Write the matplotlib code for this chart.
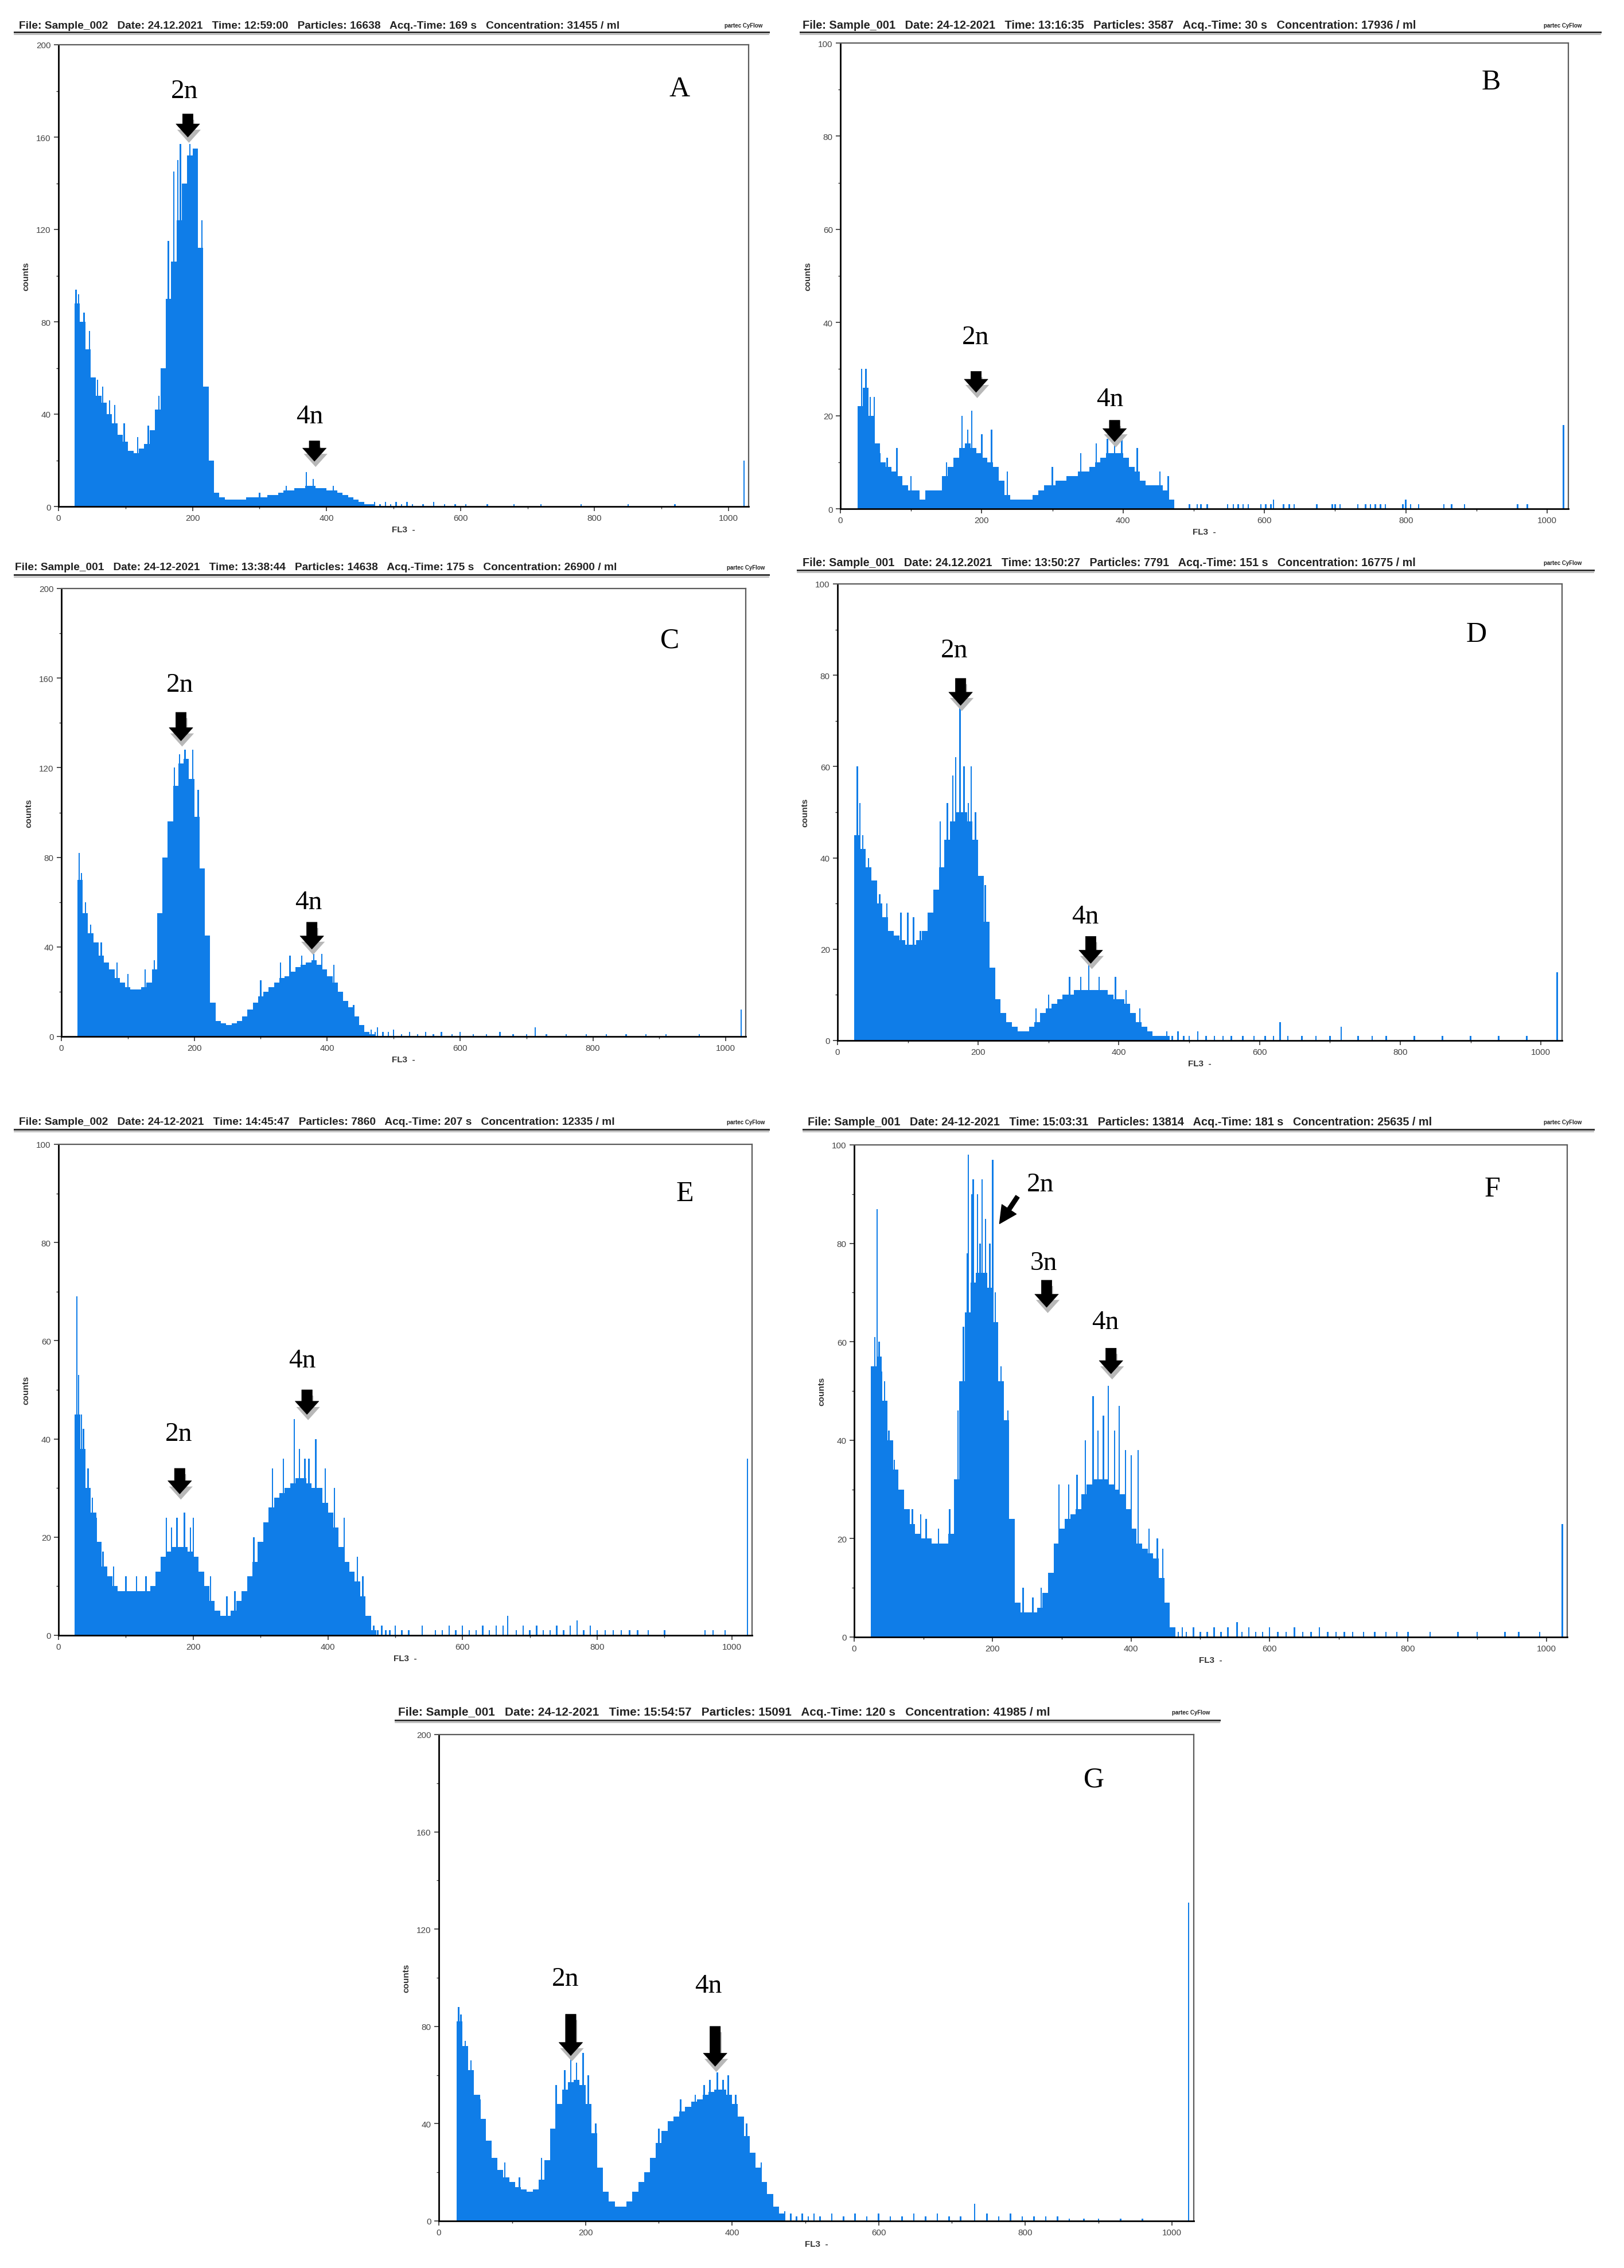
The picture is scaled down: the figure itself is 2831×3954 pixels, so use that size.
import matplotlib
matplotlib.use('Agg')
import numpy as np
import matplotlib.pyplot as plt
import matplotlib.transforms as mtransforms
from matplotlib import font_manager

# ---- data: FL3 histograms, 8-channel bins starting at channel 24 ----
a_counts = [88, 80, 68, 56, 48, 45, 40, 36, 31, 28, 24, 23, 25, 27, 33, 42, 60, 90, 106, 124,
            140, 152, 155, 112, 52, 20, 6, 4, 3, 3, 3, 3, 4, 4, 4, 4, 5, 5, 6, 7,
            7, 8, 8, 9, 9, 8, 8, 7, 7, 6, 5, 4, 3, 2, 1, 1]
b_counts = [22, 26, 20, 14, 10, 9, 8, 7, 5, 4, 4, 2, 4, 4, 4, 7, 9, 11, 13, 14,
            13, 12, 11, 10, 9, 6, 3, 2, 2, 2, 2, 3, 4, 5, 5, 6, 6, 7, 7, 8,
            8, 9, 10, 11, 12, 12, 12, 11, 9, 8, 6, 5, 5, 5, 4, 2]
c_counts = [70, 55, 46, 42, 36, 33, 30, 26, 24, 22, 21, 21, 22, 24, 30, 55, 80, 96, 112, 122,
            124, 115, 98, 75, 45, 15, 7, 6, 5, 6, 7, 9, 12, 15, 18, 20, 22, 24, 26, 27,
            29, 31, 32, 33, 34, 32, 30, 27, 24, 20, 16, 13, 9, 5, 2, 1]
d_counts = [45, 42, 38, 35, 30, 27, 24, 23, 22, 21, 21, 22, 24, 28, 33, 38, 44, 48, 50, 50,
            48, 44, 36, 26, 16, 9, 6, 4, 3, 2, 2, 3, 4, 6, 7, 8, 9, 10, 10, 11,
            11, 11, 11, 11, 11, 10, 9, 9, 8, 6, 4, 3, 2, 1, 1, 1]
e_counts = [45, 38, 30, 25, 19, 14, 12, 10, 9, 9, 9, 9, 9, 9, 10, 13, 16, 17, 18, 18,
            18, 17, 16, 13, 10, 7, 5, 4, 4, 5, 7, 9, 12, 15, 19, 23, 26, 28, 29, 30,
            31, 32, 32, 31, 30, 30, 27, 25, 22, 18, 15, 13, 11, 8, 4, 1]
f_counts = [55, 57, 48, 40, 34, 30, 26, 23, 21, 20, 20, 19, 19, 19, 21, 32, 52, 66, 72, 74,
            74, 71, 64, 52, 44, 24, 7, 5, 5, 5, 6, 9, 13, 19, 22, 24, 25, 26, 29, 31,
            32, 32, 32, 31, 30, 29, 26, 22, 19, 18, 17, 16, 12, 7, 2, 0]
g_counts = [82, 72, 62, 52, 42, 33, 26, 21, 18, 16, 14, 13, 12, 13, 17, 25, 38, 48, 54, 57,
            58, 56, 48, 36, 22, 12, 8, 6, 6, 8, 12, 16, 20, 26, 32, 37, 41, 43, 45, 47,
            49, 50, 52, 53, 54, 54, 52, 48, 43, 35, 28, 22, 16, 11, 6, 3]

# single-channel spikes standing above the bins
a_spike_ch = [26, 30, 38, 46, 58, 66, 76, 84, 98, 118, 134, 150, 164, 172, 178, 182, 196, 214, 300, 340, 370, 380, 410]
a_spike_n = [94, 92, 84, 76, 55, 52, 46, 44, 36, 30, 35, 48, 115, 145, 150, 157, 157, 124, 6, 9, 15, 12, 9]
b_spike_ch = [30, 36, 42, 48, 56, 66, 80, 100, 150, 172, 180, 186, 200, 214, 236, 300, 340, 362, 378, 388, 398, 420, 452, 464]
b_spike_n = [30, 30, 24, 24, 12, 11, 13, 7, 10, 20, 17, 21, 16, 17, 8, 9, 12, 14, 15, 17, 15, 13, 8, 7]
c_spike_ch = [27, 30, 36, 44, 60, 84, 100, 126, 140, 170, 178, 186, 198, 206, 300, 330, 344, 362, 380, 392, 410, 440]
c_spike_n = [82, 73, 60, 50, 42, 33, 28, 30, 34, 120, 126, 128, 128, 110, 25, 33, 36, 36, 37, 37, 32, 14]
d_spike_ch = [28, 32, 36, 44, 52, 60, 70, 90, 100, 108, 118, 146, 156, 164, 168, 174, 180, 186, 190, 196, 210,
              282, 300, 330, 346, 357, 372, 395, 410, 430]
d_spike_n = [60, 52, 45, 40, 35, 32, 30, 28, 28, 27, 24, 48, 52, 58, 62, 73, 60, 52, 60, 50, 34,
             7, 10, 14, 14, 18, 14, 14, 11, 7]
e_spike_ch = [27, 30, 34, 37, 44, 50, 56, 66, 82, 100, 116, 130, 160, 168, 176, 187, 196, 200, 226, 250, 262,
              290, 318, 334, 350, 358, 366, 372, 382, 396, 410, 424, 444, 452]
e_spike_n = [69, 53, 45, 42, 34, 28, 24, 17, 14, 12, 12, 12, 24, 22, 24, 25, 22, 24, 12, 8, 9,
             20, 34, 36, 44, 38, 36, 36, 40, 34, 30, 24, 16, 12]
f_spike_ch = [30, 33, 36, 40, 44, 50, 58, 70, 84, 96, 104, 122, 138, 150, 158, 163, 165, 170, 172, 178, 182,
              185, 190, 196, 200, 204, 212, 222, 244, 258, 270, 296, 310, 322, 334, 345, 352, 360, 367,
              376, 383, 392, 400, 410, 426, 438, 446]
f_spike_n = [61, 87, 60, 54, 52, 42, 36, 30, 26, 25, 24, 22, 26, 46, 63, 78, 98, 90, 93, 90, 80,
             93, 85, 80, 97, 70, 55, 46, 10, 8, 10, 31, 31, 33, 40, 49, 42, 45, 51,
             42, 47, 38, 37, 38, 22, 20, 18]
g_spike_ch = [27, 30, 36, 44, 56, 70, 90, 110, 140, 160, 172, 180, 188, 197, 204, 214, 300, 330, 350, 362,
              370, 380, 388, 395, 405, 420, 440]
g_spike_n = [88, 85, 74, 66, 50, 32, 24, 18, 26, 56, 62, 68, 65, 69, 60, 40, 38, 50, 52, 56,
             58, 61, 58, 60, 52, 40, 24]

# sparse debris above channel ~460
a_tail_ch = [472, 480, 488, 496, 504, 512, 520, 528, 544, 560, 576, 592, 608, 640, 680, 720, 780, 850, 920]
a_tail_n = [2, 1, 2, 1, 2, 1, 2, 1, 1, 2, 1, 1, 1, 1, 1, 1, 1, 1, 1]
b_tail_ch = [494, 505, 510, 519, 548, 556, 563, 570, 577, 595, 602, 609, 613, 627, 635, 642, 674, 696, 700,
             707, 732, 743, 750, 757, 764, 771, 796, 800, 807, 818, 854, 865, 883, 958, 972]
b_tail_n = [1, 1, 1, 1, 1, 1, 1, 1, 1, 1, 1, 1, 2, 1, 1, 1, 1, 1, 1,
            1, 1, 1, 1, 1, 1, 1, 1, 2, 1, 1, 1, 1, 1, 1, 1]
c_tail_ch = [466, 472, 476, 484, 492, 500, 512, 524, 536, 548, 560, 572, 588, 600, 620, 640, 660, 680,
             700, 713, 730, 760, 790, 820, 850, 880, 910, 960]
c_tail_n = [3, 2, 4, 2, 2, 3, 1, 2, 1, 2, 1, 2, 1, 2, 1, 1, 2, 1, 1, 4, 1, 1, 1, 1, 1, 1, 1, 1]
d_tail_ch = [468, 476, 484, 492, 500, 512, 524, 536, 548, 560, 576, 592, 608, 620, 629, 640, 660, 680,
             700, 716, 740, 760, 780, 820, 860, 900, 940, 980]
d_tail_n = [2, 1, 2, 1, 1, 2, 1, 1, 1, 1, 1, 1, 1, 1, 4, 1, 1, 1, 1, 3, 1, 1, 1, 1, 1, 1, 1, 1]
e_tail_ch = [468, 474, 480, 486, 492, 500, 510, 520, 540, 560, 570, 580, 590, 600, 610, 620, 630, 640, 650,
             660, 667, 680, 690, 700, 710, 720, 730, 740, 750, 760, 770, 780, 790, 800, 812, 824, 836,
             848, 860, 876, 900, 960, 972, 990]
e_tail_n = [2, 1, 2, 1, 1, 2, 1, 1, 2, 1, 1, 2, 1, 2, 1, 1, 2, 1, 2,
            2, 4, 1, 2, 1, 2, 1, 1, 2, 1, 2, 3, 1, 2, 1, 1, 1, 1,
            1, 1, 1, 1, 1, 1, 1]
f_tail_ch = [462, 468, 474, 480, 490, 500, 510, 520, 530, 540, 553, 560, 570, 580, 590, 600, 612, 624, 636,
             648, 660, 672, 684, 696, 708, 720, 736, 752, 768, 784, 800, 832, 872, 900, 940, 960, 990]
f_tail_n = [2, 1, 2, 1, 2, 1, 1, 2, 1, 2, 3, 1, 2, 1, 1, 2, 1, 1, 2,
            1, 1, 2, 1, 1, 1, 1, 1, 1, 1, 1, 1, 1, 1, 1, 1, 1, 1]
g_tail_ch = [472, 480, 488, 496, 504, 512, 520, 536, 552, 568, 584, 600, 616, 632, 648, 664, 680, 696, 712,
             731, 748, 764, 780, 796, 812, 828, 844, 860, 880, 900, 930, 960]
g_tail_n = [4, 3, 2, 3, 2, 3, 2, 3, 2, 3, 2, 3, 2, 2, 3, 2, 3, 2, 2,
            7, 3, 2, 3, 2, 2, 2, 2, 1, 1, 1, 1, 1]

# last channel (off-scale events)
end_counts = {'A': 20, 'B': 18, 'C': 12, 'D': 15, 'E': 36, 'F': 23, 'G': 131}

headers = {
    'A': 'File: Sample_002   Date: 24.12.2021   Time: 12:59:00   Particles: 16638   Acq.-Time: 169 s   Concentration: 31455 / ml',
    'B': 'File: Sample_001   Date: 24-12-2021   Time: 13:16:35   Particles: 3587   Acq.-Time: 30 s   Concentration: 17936 / ml',
    'C': 'File: Sample_001   Date: 24-12-2021   Time: 13:38:44   Particles: 14638   Acq.-Time: 175 s   Concentration: 26900 / ml',
    'D': 'File: Sample_001   Date: 24.12.2021   Time: 13:50:27   Particles: 7791   Acq.-Time: 151 s   Concentration: 16775 / ml',
    'E': 'File: Sample_002   Date: 24-12-2021   Time: 14:45:47   Particles: 7860   Acq.-Time: 207 s   Concentration: 12335 / ml',
    'F': 'File: Sample_001   Date: 24-12-2021   Time: 15:03:31   Particles: 13814   Acq.-Time: 181 s   Concentration: 25635 / ml',
    'G': 'File: Sample_001   Date: 24-12-2021   Time: 15:54:57   Particles: 15091   Acq.-Time: 120 s   Concentration: 41985 / ml',
}

# ---- layout (pixels of the 2831 x 3955 canvas) ----
W, H = 2831, 3955
DPI = 100
BLUE = '#0f7de8'

names = {f.name for f in font_manager.fontManager.ttflist}
head_font = next((n for n in ['Liberation Sans Narrow', 'DejaVu Sans Condensed', 'Liberation Sans'] if n in names),
                 'DejaVu Sans')
serif_font = 'Liberation Serif' if 'Liberation Serif' in names else 'DejaVu Serif'

panels = [
    dict(key='A', counts=a_counts, spikes=(a_spike_ch, a_spike_n), tail=(a_tail_ch, a_tail_n), ymax=200,
         box=(102, 79, 1305, 884), head=(33, 1079, 45, 57, 25, 1340, 1329),
         marks=[('2n', 188, 180, 193, 170, 160), ('4n', 375, 39, 382, 28.4, 19.6)], letter=(927, 181)),
    dict(key='B', counts=b_counts, spikes=(b_spike_ch, b_spike_n), tail=(b_tail_ch, b_tail_n), ymax=100,
         box=(1465, 76, 2734, 888), head=(1399, 2471, 45, 57, 1395, 2790, 2757),
         marks=[('2n', 191, 36.9, 192, 29.5, 25), ('4n', 381, 23.6, 388, 19, 14.4)], letter=(921, 91.7)),
    dict(key='C', counts=c_counts, spikes=(c_spike_ch, c_spike_n), tail=(c_tail_ch, c_tail_n), ymax=200,
         box=(107, 1027, 1300, 1808), head=(26, 1076, 990, 1003, 25, 1340, 1333),
         marks=[('2n', 178, 157, 180, 144.7, 132), ('4n', 372, 60, 377, 51, 39)], letter=(916, 177)),
    dict(key='D', counts=d_counts, spikes=(d_spike_ch, d_spike_n), tail=(d_tail_ch, d_tail_n), ymax=100,
         box=(1460, 1019, 2723, 1815), head=(1399, 2471, 982, 995, 1390, 2778, 2757),
         marks=[('2n', 166, 85.5, 175, 79.3, 73.4), ('4n', 352, 27.2, 360, 22.8, 16.9)], letter=(908, 89)),
    dict(key='E', counts=e_counts, spikes=(e_spike_ch, e_spike_n), tail=(e_tail_ch, e_tail_n), ymax=100,
         box=(102, 1996, 1311, 2852), head=(33, 1072, 1957, 1970, 25, 1340, 1333),
         marks=[('2n', 179, 41, 180, 34, 28.8), ('4n', 362, 56, 369, 50, 45)], letter=(930, 90)),
    dict(key='F', counts=f_counts, spikes=(f_spike_ch, f_spike_n), tail=(f_tail_ch, f_tail_n), ymax=100,
         box=(1489, 1997, 2732, 2855), head=(1408, 2498, 1957, 1970, 1400, 2778, 2757),
         marks=[('3n', 274, 76, 278, 72.5, 67), ('4n', 363, 64, 371, 58.7, 53.5)], letter=(922, 91)),
    dict(key='G', counts=g_counts, spikes=(g_spike_ch, g_spike_n), tail=(g_tail_ch, g_tail_n), ymax=200,
         box=(765, 3025, 2081, 3873), head=(694, 1832, 2986, 3000, 689, 2126, 2109),
         marks=[('2n', 173, 99.7, 180, 85, 68), ('4n', 368, 96.8, 377, 80, 63.6)], letter=(894, 181.5)),
]

fig = plt.figure(figsize=(W / DPI, H / DPI), dpi=DPI)
fig.patch.set_facecolor('white')
renderer = fig.canvas.get_renderer()


def fy(y):
    return 1 - y / H


def down_arrow(ax, x, y_top, y_tip):
    style = 'simple,head_length=0.75,head_width=1.35,tail_width=0.6'
    shadow = mtransforms.offset_copy(ax.transData, fig=fig, x=2, y=-10, units='dots')
    ax.annotate('', xy=(x, y_tip), xytext=(x, y_top), xycoords=shadow,
                arrowprops=dict(arrowstyle=style, fc='#b8b8b8', ec='none', mutation_scale=22,
                                shrinkA=0, shrinkB=0))
    ax.annotate('', xy=(x, y_tip), xytext=(x, y_top),
                arrowprops=dict(arrowstyle=style, fc='black', ec='black', lw=0.5, mutation_scale=22,
                                shrinkA=0, shrinkB=0))


for p in panels:
    l, t, r, b = p['box']
    ax = fig.add_axes([l / W, 1 - b / H, (r - l) / W, (b - t) / H])
    counts = np.array(p['counts'], dtype=float)
    edges = 24 + 8 * np.arange(len(counts) + 1)
    ax.stairs(counts, edges, fill=True, color=BLUE, linewidth=0)
    ax.bar(p['spikes'][0], p['spikes'][1], width=2, color=BLUE, linewidth=0)
    ax.bar(p['tail'][0], p['tail'][1], width=2, color=BLUE, linewidth=0)
    ax.bar([1023], [end_counts[p['key']]], width=2, color=BLUE, linewidth=0)

    ymax = p['ymax']
    ax.set_xlim(0, 1030)
    ax.set_ylim(0, ymax)
    ax.set_xticks(np.arange(0, 1001, 200))
    ax.set_xticks(np.arange(0, 1001, 100), minor=True)
    ax.set_yticks(np.arange(0, ymax + 1, ymax // 5))
    ax.set_yticks(np.arange(0, ymax + 1, ymax // 10), minor=True)
    ax.tick_params(which='major', length=6, width=1.2, color='#333333', labelsize=11,
                   labelcolor='#444444', direction='out')
    ax.tick_params(which='minor', length=3, width=1, color='#333333', direction='out')
    for lab in ax.get_xticklabels() + ax.get_yticklabels():
        lab.set_family(head_font)
    for side in ('left', 'bottom'):
        ax.spines[side].set_linewidth(2)
        ax.spines[side].set_color('black')
    for side in ('top', 'right'):
        ax.spines[side].set_linewidth(1.6)
        ax.spines[side].set_color('#5a5a5a')
    ax.set_ylabel('counts', fontsize=11, fontweight='bold', color='#333333', family=head_font, labelpad=8)
    ax.set_xlabel('FL3  -', fontsize=11, fontweight='bold', color='#333333', family=head_font, labelpad=4)

    for text, tx, ty, axx, y_top, y_tip in p['marks']:
        ax.text(tx, ty, text, family=serif_font, fontsize=34, ha='center', va='center', color='black')
        down_arrow(ax, axx, y_top, y_tip)
    lx, ly = p['letter']
    ax.text(lx, ly, p['key'], family=serif_font, fontsize=36, ha='center', va='center', color='black')

    if p['key'] == 'F':
        ax.text(269, 92, '2n', family=serif_font, fontsize=34, ha='center', va='center', color='black')
        ax.annotate('', xy=(210, 84), xytext=(236, 89.5),
                    arrowprops=dict(arrowstyle='simple,head_length=0.9,head_width=0.9,tail_width=0.22',
                                    fc='black', ec='black', mutation_scale=24, shrinkA=0, shrinkB=0))

    # instrument header line above each histogram
    x0, x1, ty, ly_line, lx0, lx1, px = p['head']
    ht = fig.text(x0 / W, fy(ty), headers[p['key']], fontsize=10, fontweight='bold',
                  family=head_font, color='#222222', ha='left', va='center')
    wpx = ht.get_window_extent(renderer).width
    ht.set_fontsize(10 * (x1 - x0) / wpx)
    fig.text(px / W, fy(ty), 'partec CyFlow', fontsize=7, fontweight='bold', family=head_font,
             color='#222222', ha='right', va='center')
    fig.add_artist(plt.Line2D([lx0 / W, lx1 / W], [fy(ly_line), fy(ly_line)], color='#333333',
                              linewidth=2.2))
    fig.add_artist(plt.Line2D([lx0 / W, lx1 / W], [fy(ly_line + 4), fy(ly_line + 4)], color='#aaaaaa',
                              linewidth=1.2))

fig.savefig('out.png', dpi=DPI, facecolor='white')
